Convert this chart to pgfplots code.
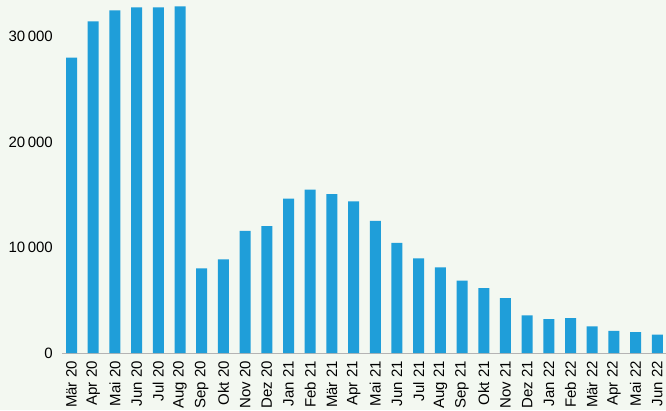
\documentclass[border=0pt]{standalone}
\usepackage{fontspec}
\setmainfont{Liberation Sans}
\usepackage{pgfplots}
\pgfplotsset{compat=1.18}
\definecolor{bg}{HTML}{F3F8F1}
\definecolor{barc}{HTML}{1F9ED9}
\definecolor{axc}{HTML}{B4B4B4}
\newcommand\tfont{\fontsize{15}{17.5}\selectfont}
\begin{document}
\begin{tikzpicture}[font=\tfont]
\fill[bg] (-62pt,-57pt) rectangle (604pt,353pt);
\begin{axis}[
  at={(0,0)}, anchor=south west,
  scale only axis, width=604pt, height=352pt,
  xmin=-0.44, xmax=27.4, ymin=0, ymax=33400,
  axis x line*=bottom, axis y line*=left,
  y axis line style={draw=none},
  x axis line style={draw=axc, line width=1pt, -},
  ytick={0,10000,20000,30000},
  scaled y ticks=false,
  xtick={0,...,27},
  xticklabels={Mär 20,Apr 20,Mai 20,Jun 20,Jul 20,Aug 20,Sep 20,Okt 20,Nov 20,Dez 20,Jan 21,Feb 21,Mär 21,Apr 21,Mai 21,Jun 21,Jul 21,Aug 21,Sep 21,Okt 21,Nov 21,Dez 21,Jan 22,Feb 22,Mär 22,Apr 22,Mai 22,Jun 22},
  major tick length=0pt,
  every tick label/.append style={font=\tfont},
  xticklabel style={font=\tfont, yshift=-8pt, rotate=90, anchor=east, inner sep=0pt},
  yticklabel style={font=\tfont, inner sep=0pt, xshift=-9pt},
  /pgf/number format/assume math mode=true,
  /pgf/number format/1000 sep={\,},
  ybar, bar width=11pt,
]
\addplot[fill=barc, draw=none] coordinates {
(0,28030) (1,31470) (2,32510) (3,32800) (4,32800) (5,32890)
(6,8030) (7,8880) (8,11590) (9,12040) (10,14660) (11,15510)
(12,15070) (13,14380) (14,12540) (15,10460) (16,8970) (17,8120)
(18,6860) (19,6160) (20,5210) (21,3570) (22,3220) (23,3320)
(24,2530) (25,2090) (26,1990) (27,1740)
};
\end{axis}
\pgfresetboundingbox
\path[use as bounding box] (-62pt,-57pt) rectangle (604pt,353pt);
\end{tikzpicture}
\end{document}
